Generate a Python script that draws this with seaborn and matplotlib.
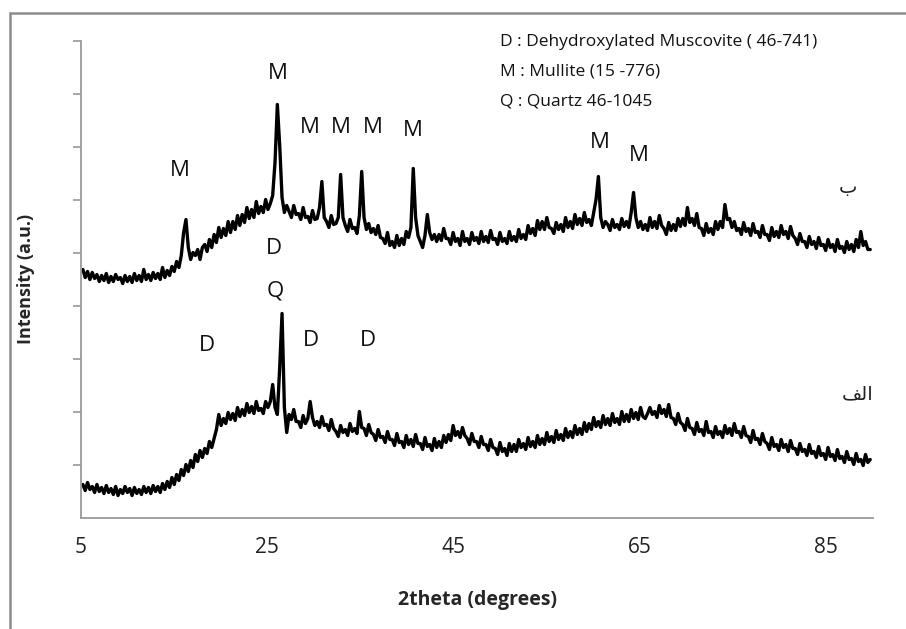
import numpy as np
import pandas as pd
import matplotlib
matplotlib.use("Agg")
import matplotlib.pyplot as plt
from matplotlib.patches import Rectangle
import seaborn as sns

# intensity (a.u.), one row per degree, 0.25 deg apart
top_counts = [
    248, 240, 246, 238, 245, 239, 243, 236, 242, 237, 244, 235, 241, 236, 243, 238,
    240, 234, 242, 236, 241, 235, 244, 237, 242, 236, 248, 238, 243, 237, 245, 239,
    244, 238, 250, 240, 247, 242, 251, 246, 256, 250, 262, 285, 298, 270, 258, 265,
    262, 268, 258, 270, 273, 266, 278, 270, 283, 275, 290, 280, 289, 282, 296, 285,
    296, 288, 302, 292, 303, 295, 310, 299, 308, 300, 316, 304, 311, 305, 318, 308,
    314, 322, 355, 413, 372, 320, 305, 312, 306, 300, 312, 303, 304, 298, 310, 300,
    301, 295, 307, 298, 299, 310, 336, 300, 296, 290, 302, 293, 294, 300, 343, 300,
    292, 286, 298, 289, 290, 284, 302, 346, 300, 288, 294, 285, 289, 283, 292, 280,
    279, 274, 285, 272, 276, 270, 282, 272, 279, 273, 286, 280, 290, 349, 300, 282,
    276, 270, 282, 303, 285, 278, 283, 276, 283, 277, 289, 279, 279, 273, 285, 276,
    279, 272, 286, 276, 279, 273, 285, 277, 280, 274, 286, 276, 281, 275, 287, 278,
    279, 273, 285, 276, 279, 274, 286, 277, 281, 276, 288, 279, 283, 278, 292, 284,
    289, 282, 297, 288, 296, 288, 300, 290, 289, 284, 295, 288, 293, 286, 300, 290,
    296, 289, 303, 293, 299, 292, 305, 295, 298, 292, 305, 318, 341, 300, 290, 296,
    293, 287, 298, 290, 293, 288, 299, 291, 296, 290, 305, 325, 300, 290, 296, 288,
    293, 287, 300, 290, 296, 289, 302, 292, 289, 283, 295, 287, 293, 287, 299, 291,
    299, 292, 310, 295, 299, 292, 304, 290, 289, 282, 294, 285, 289, 283, 296, 288,
    296, 290, 313, 298, 299, 290, 296, 287, 289, 283, 295, 286, 289, 282, 294, 285,
    286, 280, 292, 283, 283, 277, 290, 281, 286, 280, 292, 283, 286, 279, 291, 282,
    279, 273, 284, 276, 276, 270, 281, 273, 276, 269, 280, 272, 273, 267, 278, 270,
    273, 266, 278, 269, 271, 265, 276, 268, 273, 266, 278, 270, 286, 272, 276, 268,
    268,
]

bottom_counts = [
    33, 27, 35, 28, 31, 25, 33, 26, 30, 24, 32, 25, 29, 23, 31, 22,
    28, 24, 31, 25, 29, 22, 30, 24, 28, 23, 31, 25, 30, 24, 32, 26,
    31, 25, 34, 28, 36, 30, 40, 33, 43, 37, 48, 42, 53, 46, 57, 50,
    63, 56, 67, 60, 69, 64, 76, 70, 79, 88, 103, 92, 99, 94, 105, 98,
    104, 97, 110, 101, 108, 102, 114, 105, 111, 104, 116, 107, 109, 104, 116, 110,
    116, 133, 110, 103, 150, 204, 110, 85, 103, 98, 108, 96, 96, 90, 102, 94,
    99, 116, 100, 92, 96, 90, 101, 92, 93, 87, 98, 89, 86, 81, 92, 85,
    88, 82, 94, 86, 89, 84, 106, 90, 89, 82, 93, 85, 83, 77, 88, 80,
    81, 75, 86, 78, 78, 72, 84, 75, 76, 70, 82, 73, 78, 71, 83, 74,
    74, 68, 80, 71, 73, 67, 79, 70, 76, 70, 82, 75, 83, 77, 92, 82,
    86, 80, 90, 82, 79, 73, 84, 76, 76, 70, 81, 73, 73, 67, 78, 70,
    69, 63, 75, 66, 69, 62, 74, 66, 73, 66, 78, 70, 74, 68, 80, 71,
    76, 70, 82, 73, 79, 73, 85, 76, 81, 75, 87, 78, 83, 77, 89, 80,
    86, 80, 92, 83, 89, 83, 95, 86, 94, 88, 100, 91, 96, 90, 102, 93,
    99, 92, 104, 95, 99, 93, 106, 96, 103, 96, 108, 99, 105, 98, 110, 101,
    99, 104, 110, 103, 106, 100, 112, 104, 108, 101, 113, 100, 99, 93, 104, 95,
    93, 87, 99, 90, 89, 83, 95, 86, 88, 82, 96, 85, 86, 80, 91, 83,
    86, 80, 92, 84, 89, 82, 94, 85, 86, 80, 91, 82, 81, 75, 87, 78,
    79, 73, 84, 76, 74, 68, 80, 71, 73, 67, 78, 70, 73, 66, 77, 69,
    69, 63, 74, 66, 68, 62, 73, 64, 66, 60, 71, 62, 64, 58, 70, 61,
    63, 57, 68, 59, 61, 55, 66, 58, 59, 53, 64, 56, 58, 52, 63, 55,
    58,
]

two_theta = np.linspace(5.2, 89.7, len(top_counts))

xticks = [5, 25, 45, 65, 85]

legend_lines = [
    "D : Dehydroxylated Muscovite ( 46-741)",
    "M : Mullite (15 -776)",
    "Q : Quartz 46-1045",
]

# phase labels: (text, 2theta, intensity)
peak_labels = [
    ("M", 15.6, 347), ("M", 26.1, 444), ("M", 29.6, 390), ("M", 32.9, 390),
    ("M", 36.3, 390), ("M", 40.6, 387), ("M", 60.7, 375), ("M", 64.9, 362),
    ("D", 25.7, 269), ("Q", 25.9, 227), ("D", 18.5, 172), ("D", 29.7, 177),
    ("D", 35.8, 177),
]

sample_labels = [
    ("\u0628", 87.3, 330),               # ب
    ("\ufed2\ufedf\u0627", 88.3, 124),   # الف, shaped by hand
]

df = pd.concat([
    pd.DataFrame({"2theta": two_theta, "I": top_counts, "sample": "b"}),
    pd.DataFrame({"2theta": two_theta, "I": bottom_counts, "sample": "a"}),
])

sns.set_theme(style="white")
plt.rcParams["font.family"] = ["Open Sans", "DejaVu Sans"]

fig = plt.figure(figsize=(9.06, 6.29), dpi=100)
ax = fig.add_axes([81 / 906, 1 - 517.5 / 629, 792 / 906, 477 / 629])

for name, grp in df.groupby("sample"):
    sns.lineplot(data=grp, x="2theta", y="I", ax=ax, color="black", lw=2.4,
                 estimator=None, sort=False, legend=False)

ax.set_xlim(5, 90)
ax.set_ylim(0, 477)
ax.set_xticks(xticks)
ax.set_xticklabels([str(t) for t in xticks], fontsize=15, color="#222222")
ax.set_yticks(np.arange(53, 478, 53))
ax.set_yticklabels([])
ax.tick_params(axis="x", length=0, pad=14)
ax.tick_params(axis="y", direction="out", length=6, width=1.2, color="#9a9a9a", left=True)
for s in ["top", "right"]:
    ax.spines[s].set_visible(False)
for s in ["left", "bottom"]:
    ax.spines[s].set_color("#9a9a9a")
    ax.spines[s].set_linewidth(1.3)

ax.set_xlabel("2theta (degrees)", fontsize=14, fontweight="bold", labelpad=10)
ax.set_ylabel("Intensity (a.u.)", fontsize=13, fontweight="bold", labelpad=30)
ax.xaxis.set_label_coords(0.5, -0.153)
ax.yaxis.set_label_coords(-0.058, 0.5)

for txt, x, y in peak_labels:
    ax.text(x, y, txt, fontsize=16, ha="center", va="center", color="#111111")

for i, line in enumerate(legend_lines):
    ax.text(50.0, 475 - i * 29.5, line, fontsize=12.5, ha="left", va="center", color="#111111")

for txt, x, y in sample_labels:
    ax.text(x, y, txt, fontsize=14, ha="center", va="center", family="DejaVu Sans", color="#222222")

fig.add_artist(Rectangle((10 / 906, -0.2), 1.2, 1.2 - 13 / 629, transform=fig.transFigure,
                         fill=False, ec="#8c8c8c", lw=1.8))

fig.savefig("out.png", dpi=100, facecolor="white")
